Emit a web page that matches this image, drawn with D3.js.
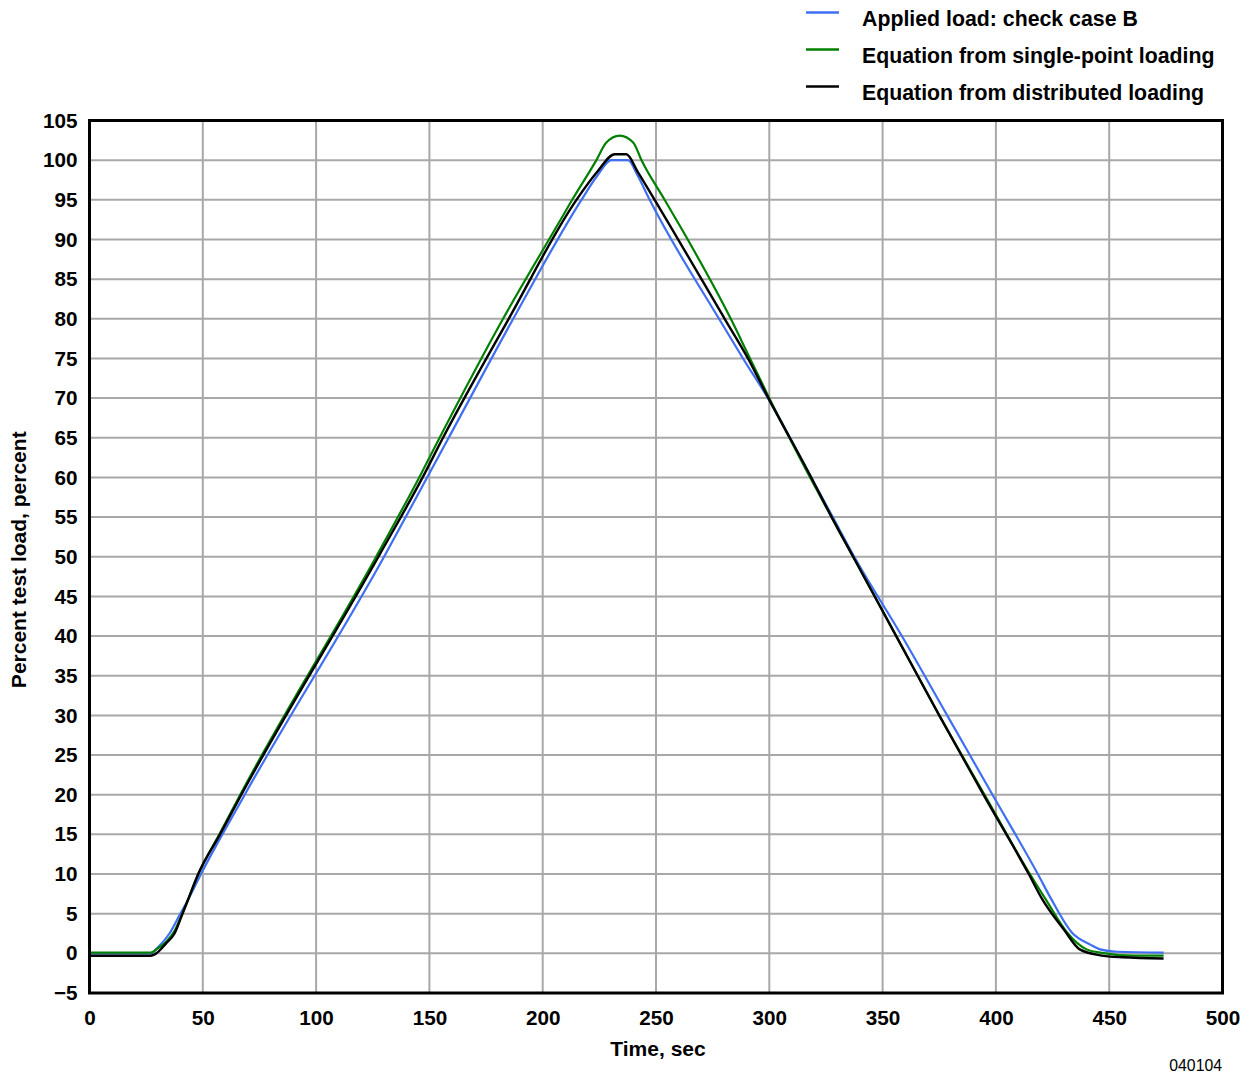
<!DOCTYPE html>
<html>
<head>
<meta charset="utf-8">
<script src="https://cdn.jsdelivr.net/npm/d3@7"></script>
<style>
  html, body { margin: 0; padding: 0; background: #fff; }
  svg { display: block; font-family: "Liberation Sans", Arial, sans-serif; }
</style>
</head>
<body>
<svg id="chart" width="1254" height="1077"></svg>
<script>
// Time (s) and percent test load for each trace
const appliedTime = [0, 27, 30, 35.3, 39.7, 43.4, 49.2, 68.5, 130, 149, 158.5, 187, 217.1, 224, 230.3, 237.6, 242, 247.2, 277.8, 288.4, 299.4, 318.5, 328, 337.5, 358.5, 378.5, 398.5, 418.5, 424.5, 433.6, 441.7, 446, 453.5, 474];
const appliedLoad = [0, 0, 0.7, 2.5, 4.8, 6.7, 10, 20, 50, 60, 65, 80, 95, 98, 100, 100, 98, 95, 80, 75, 70, 60, 55, 50, 40, 30, 20, 10, 6.8, 2.6, 1.1, 0.5, 0.2, 0.1];

const singlePointTime = [0, 27, 29.5, 34, 37.5, 40.5, 43.4, 48, 57.3, 66.5, 126.5, 145.5, 154.5, 182.5, 207.5, 213, 223.7, 228, 234, 240, 243.6, 253.8, 264, 283, 291.5, 300, 318, 327.5, 337, 356, 375, 395, 415, 422, 431.5, 440, 446, 461, 474];
const singlePointLoad = [0.1, 0.1, 0.5, 1.5, 2.8, 4.7, 6.7, 10, 15, 20, 50, 60, 65, 80, 92.3, 95, 100, 102.2, 103.1, 102.2, 100, 95, 90, 80, 75, 70, 60, 55, 50, 40, 30, 20, 10, 6.8, 2.6, 0.5, 0.1, -0.3, -0.3];

const distributedTime = [0, 27, 29, 33.8, 37.5, 40.5, 43.4, 48, 57.6, 67, 127.5, 147, 156, 185, 214.9, 224, 231.8, 236.9, 242, 249.4, 280.3, 290.6, 299.6, 318.5, 327.5, 337, 356, 375, 394.5, 414.5, 420.5, 430, 437, 446, 456, 474];
const distributedLoad = [-0.3, -0.3, -0.1, 1.26, 2.5, 4.6, 6.7, 10, 15, 20, 50, 60, 65, 80, 95, 98.5, 100.75, 100.75, 98.5, 95, 80, 75, 70, 60, 55, 50, 40, 30, 20, 10, 6.8, 3.0, 0.5, -0.25, -0.5, -0.65];

const seriesNames = ["Applied load: check case B", "Equation from single-point loading", "Equation from distributed loading"];
const seriesColors = ["#3f6ff2", "#008000", "#000000"];

const xTicks = [0, 50, 100, 150, 200, 250, 300, 350, 400, 450, 500];
const yTicks = [-5, 0, 5, 10, 15, 20, 25, 30, 35, 40, 45, 50, 55, 60, 65, 70, 75, 80, 85, 90, 95, 100, 105];

const xTitle = "Time, sec";
const yTitle = "Percent test load, percent";
const figureId = "040104";

const series = [
  { name: seriesNames[0], color: seriesColors[0], t: appliedTime, v: appliedLoad, width: 2.2 },
  { name: seriesNames[1], color: seriesColors[1], t: singlePointTime, v: singlePointLoad, width: 2.2 },
  { name: seriesNames[2], color: seriesColors[2], t: distributedTime, v: distributedLoad, width: 2.4 }
];

const svg = d3.select("#chart");
const plot = { left: 89.5, right: 1222.5, top: 120.5, bottom: 993 };

const x = d3.scaleLinear().domain([0, 500]).range([plot.left, plot.right]);
const y = d3.scaleLinear().domain([-5, 105]).range([plot.bottom, plot.top]);

// grid
const grid = svg.append("g");
grid.selectAll("line.v").data(xTicks.slice(1, -1)).join("line")
  .attr("x1", d => x(d)).attr("x2", d => x(d))
  .attr("y1", plot.top).attr("y2", plot.bottom)
  .attr("stroke", "#a8a8a8").attr("stroke-width", 2);
grid.selectAll("line.h").data(yTicks.slice(1, -1)).join("line")
  .attr("y1", d => y(d)).attr("y2", d => y(d))
  .attr("x1", plot.left).attr("x2", plot.right)
  .attr("stroke", "#a8a8a8").attr("stroke-width", 2);

// axes (labels only, the frame is drawn separately)
const xAxis = d3.axisBottom(x).tickValues(xTicks).tickSize(0).tickPadding(17).tickFormat(d3.format("d"));
const yAxis = d3.axisLeft(y).tickValues(yTicks).tickSize(0).tickPadding(12).tickFormat(d3.format("d"));

const gx = svg.append("g").attr("transform", `translate(0,${plot.bottom})`).call(xAxis);
const gy = svg.append("g").attr("transform", `translate(${plot.left},0)`).call(yAxis);
[gx, gy].forEach(g => {
  g.select(".domain").remove();
  g.selectAll("text").attr("font-family", "Liberation Sans, Arial, sans-serif")
    .attr("font-size", 20.7).attr("font-weight", "bold").attr("fill", "#000");
});

// traces
const line = d3.line().x(d => x(d[0])).y(d => y(d[1])).curve(d3.curveMonotoneX);
series.forEach(s => {
  const pts = s.t.map((t, i) => [t, s.v[i]]);
  svg.append("path").datum(pts)
    .attr("d", line)
    .attr("fill", "none")
    .attr("stroke", s.color)
    .attr("stroke-width", s.width)
    .attr("stroke-linejoin", "round");
});

// frame
svg.append("rect")
  .attr("x", plot.left).attr("y", plot.top)
  .attr("width", plot.right - plot.left).attr("height", plot.bottom - plot.top)
  .attr("fill", "none").attr("stroke", "#000").attr("stroke-width", 3);

// axis titles
svg.append("text")
  .attr("x", (plot.left + plot.right) / 2 + 2).attr("y", 1056)
  .attr("text-anchor", "middle").attr("font-size", 21).attr("font-weight", "bold")
  .text(xTitle);
svg.append("text")
  .attr("transform", `translate(26,${(plot.top + plot.bottom) / 2 + 3}) rotate(-90)`)
  .attr("text-anchor", "middle").attr("font-size", 21).attr("font-weight", "bold")
  .text(yTitle);

// figure id
svg.append("text")
  .attr("x", 1222).attr("y", 1071)
  .attr("text-anchor", "end").attr("font-size", 15.8)
  .text(figureId);

// legend
const legend = svg.append("g");
series.forEach((s, i) => {
  const ly = 12.5 + i * 37;
  legend.append("line")
    .attr("x1", 806).attr("x2", 839).attr("y1", ly).attr("y2", ly)
    .attr("stroke", s.color).attr("stroke-width", 2.5);
  legend.append("text")
    .attr("x", 862).attr("y", ly + 13.5)
    .attr("font-size", 21.3).attr("font-weight", "bold")
    .text(s.name);
});
</script>
</body>
</html>
